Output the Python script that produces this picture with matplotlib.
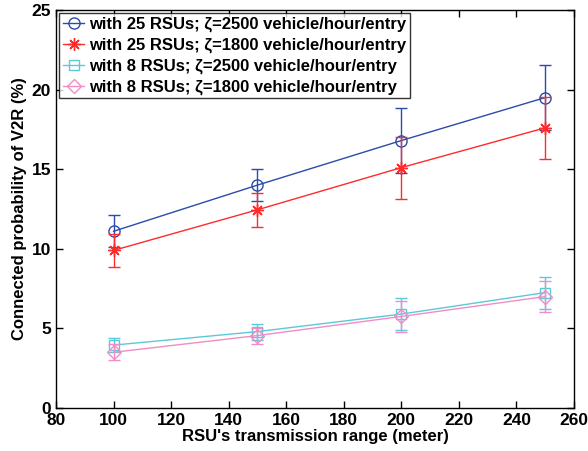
import matplotlib
matplotlib.use("Agg")
import matplotlib.pyplot as plt

plt.rcParams['font.family'] = ['Liberation Sans', 'DejaVu Sans']

x = [100, 150, 200, 250]
labels = ["with 25 RSUs; ζ=2500 vehicle/hour/entry",
          "with 25 RSUs; ζ=1800 vehicle/hour/entry",
          "with 8 RSUs; ζ=2500 vehicle/hour/entry",
          "with 8 RSUs; ζ=1800 vehicle/hour/entry"]
blue = [11.1, 14.0, 16.8, 19.5]
blue_err = [1.0, 1.0, 2.05, 2.05]
red = [9.9, 12.45, 15.1, 17.6]
red_err = [1.05, 1.05, 1.95, 1.95]
cyan = [3.95, 4.8, 5.9, 7.25]
cyan_err = [0.45, 0.5, 1.0, 1.0]
pink = [3.5, 4.55, 5.75, 7.0]
pink_err = [0.5, 0.5, 1.0, 1.0]

colors = ['#2a4caa', '#ff2a2a', '#5cc8d8', '#f38cc4']
markers = ['o', (8, 2, 0), 's', 'D']
sizes = [8, 9, 7, 7]

fig = plt.figure(figsize=(5.88, 4.51), dpi=100)
ax = fig.add_axes([56/588, 43/451, 518/588, 398/451])

series = [(blue, blue_err), (red, red_err), (cyan, cyan_err), (pink, pink_err)]
for (y, e), c, m, s, lab in zip(series, colors, markers, sizes, labels):
    ax.errorbar(x, y, yerr=e, color=c, fmt='none',
                capsize=4.5, elinewidth=1.0, capthick=1.0)
    ax.plot(x, y, color=c, marker=m, markersize=s,
            markerfacecolor='none', markeredgecolor=c, markeredgewidth=1.0,
            linewidth=1.0, label=lab)

ax.set_xlim(80, 260)
ax.set_ylim(0, 25)
ax.set_xticks(range(80, 261, 20))
ax.set_yticks(range(0, 26, 5))
ax.tick_params(direction='in', top=True, right=True, length=5, width=1,
               labelsize=12.5)
for lab in ax.get_xticklabels() + ax.get_yticklabels():
    lab.set_fontweight('bold')
for sp in ax.spines.values():
    sp.set_linewidth(1.0)

ax.set_xlabel("RSU's transmission range (meter)", fontsize=12, fontweight='bold', labelpad=1)
ax.set_ylabel("Connected probability of V2R (%)", fontsize=12, fontweight='bold', labelpad=3)

leg = ax.legend(loc='upper left', prop={'weight': 'bold', 'size': 12},
                frameon=True, fancybox=False, edgecolor='black',
                handlelength=1.3, handletextpad=0.3, borderpad=0.2,
                labelspacing=0.33, borderaxespad=0.2)
leg.get_frame().set_linewidth(1.0)

fig.savefig('out.png', dpi=100)
